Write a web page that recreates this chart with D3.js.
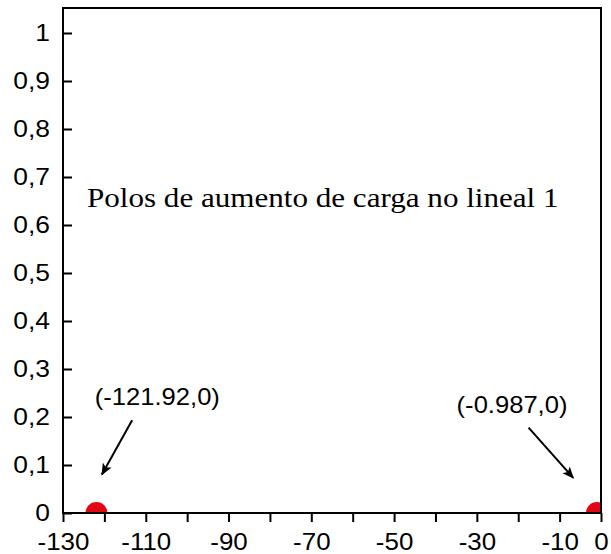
<!DOCTYPE html>
<html>
<head>
<meta charset="utf-8">
<script src="https://cdn.jsdelivr.net/npm/d3@7"></script>
<style>
  body { margin: 0; background: #fff; }
  svg text { font-family: Arial, "Liberation Sans", sans-serif; }
</style>
</head>
<body>
<div id="plot"></div>
<script>
// pole data
const poleX = [-121.92, -0.987];
const poleY = [0, 0];
const poleLabels = ["(-121.92,0)", "(-0.987,0)"];

// tick values
const xTicks = [-130, -120, -110, -100, -90, -80, -70, -60, -50, -40, -30, -20, -10, 0];
const xTickLabels = ["-130", "", "-110", "", "-90", "", "-70", "", "-50", "", "-30", "", "-10", "0"];
const yTicks = [0, 0.1, 0.2, 0.3, 0.4, 0.5, 0.6, 0.7, 0.8, 0.9, 1];

const title = "Polos de aumento de carga no lineal 1";

const width = 611, height = 554;
const plotLeft = 63, plotRight = 601, plotTop = 8, plotBottom = 513;

const svg = d3.select("#plot")
  .append("svg")
    .attr("width", width)
    .attr("height", height);

const x = d3.scaleLinear().domain([-130, 0]).range([plotLeft, plotRight]);
const y = d3.scaleLinear().domain([0, 1]).range([plotBottom, 33]);

// the source text is a bit wider than normal, stretch it
function stretch(sel, k) {
  sel.each(function() {
    const len = this.getComputedTextLength();
    if (len > 0) {
      d3.select(this)
        .attr("textLength", len * k)
        .attr("lengthAdjust", "spacingAndGlyphs");
    }
  });
}

const defs = svg.append("defs");
defs.append("clipPath")
    .attr("id", "clip")
  .append("rect")
    .attr("x", plotLeft).attr("y", plotTop)
    .attr("width", plotRight - plotLeft).attr("height", plotBottom - plotTop);

// markers (clipped by plot area)
svg.append("g")
    .attr("clip-path", "url(#clip)")
  .selectAll("circle")
  .data(poleX)
  .join("circle")
    .attr("cx", d => x(d))
    .attr("cy", (d, i) => y(poleY[i]))
    .attr("r", 11)
    .attr("fill", "#e30613");

// frame
svg.append("rect")
    .attr("x", plotLeft).attr("y", plotTop)
    .attr("width", plotRight - plotLeft).attr("height", plotBottom - plotTop)
    .attr("fill", "none")
    .attr("stroke", "#000")
    .attr("stroke-width", 2);

// x axis
const xAxis = svg.append("g")
    .attr("transform", `translate(0,${plotBottom})`)
    .call(d3.axisBottom(x)
      .tickValues(xTicks)
      .tickSize(9)
      .tickPadding(11)
      .tickFormat((d, i) => xTickLabels[i]));
xAxis.select(".domain").remove();
xAxis.selectAll(".tick line").attr("stroke-width", 2);
xAxis.selectAll(".tick text")
    .attr("font-size", 24)
    .attr("font-family", "Arial, 'Liberation Sans', sans-serif")
    .attr("fill", "#000")
    .call(stretch, 1.08);

// y axis (ticks inside)
const fmt = d => d3.format("~g")(d).replace(".", ",");
const yAxis = svg.append("g")
    .attr("transform", `translate(${plotLeft},0)`)
    .call(d3.axisLeft(y)
      .tickValues(yTicks)
      .tickSize(-9)
      .tickPadding(13)
      .tickFormat(fmt));
yAxis.select(".domain").remove();
yAxis.selectAll(".tick line").attr("stroke-width", 2);
yAxis.selectAll(".tick text")
    .attr("font-size", 24)
    .attr("font-family", "Arial, 'Liberation Sans', sans-serif")
    .attr("fill", "#000")
    .call(stretch, 1.1);

// title inside plot
svg.append("text")
    .attr("x", 87)
    .attr("y", 207)
    .style("font-family", "'Liberation Serif', 'Times New Roman', serif")
    .attr("font-size", 28)
    .text(title)
    .call(stretch, 1.11);

// arrow marker
defs.append("marker")
    .attr("id", "arrow")
    .attr("viewBox", "0 0 12 10")
    .attr("refX", 11).attr("refY", 5)
    .attr("markerWidth", 6).attr("markerHeight", 5)
    .attr("markerUnits", "strokeWidth")
    .attr("orient", "auto")
  .append("path")
    .attr("d", "M0,0L12,5L0,10L3,5Z")
    .attr("fill", "#000");

// annotations: label position and arrow in data space
const labelPos = [[-107.2, 0.225], [-21.5, 0.208]];
const arrowFrom = [[-113.3, 0.193], [-17.5, 0.178]];
const arrowTo = [[-120.6, 0.08], [-6.7, 0.073]];

svg.append("g").selectAll("text")
  .data(poleLabels)
  .join("text")
    .attr("x", (d, i) => x(labelPos[i][0]))
    .attr("y", (d, i) => y(labelPos[i][1]))
    .attr("text-anchor", "middle")
    .attr("font-size", 24)
    .text(d => d)
    .call(stretch, 1.065);

svg.append("g").selectAll("line")
  .data(poleLabels)
  .join("line")
    .attr("x1", (d, i) => x(arrowFrom[i][0]))
    .attr("y1", (d, i) => y(arrowFrom[i][1]))
    .attr("x2", (d, i) => x(arrowTo[i][0]))
    .attr("y2", (d, i) => y(arrowTo[i][1]))
    .attr("stroke", "#000")
    .attr("stroke-width", 2)
    .attr("marker-end", "url(#arrow)");
</script>
</body>
</html>
